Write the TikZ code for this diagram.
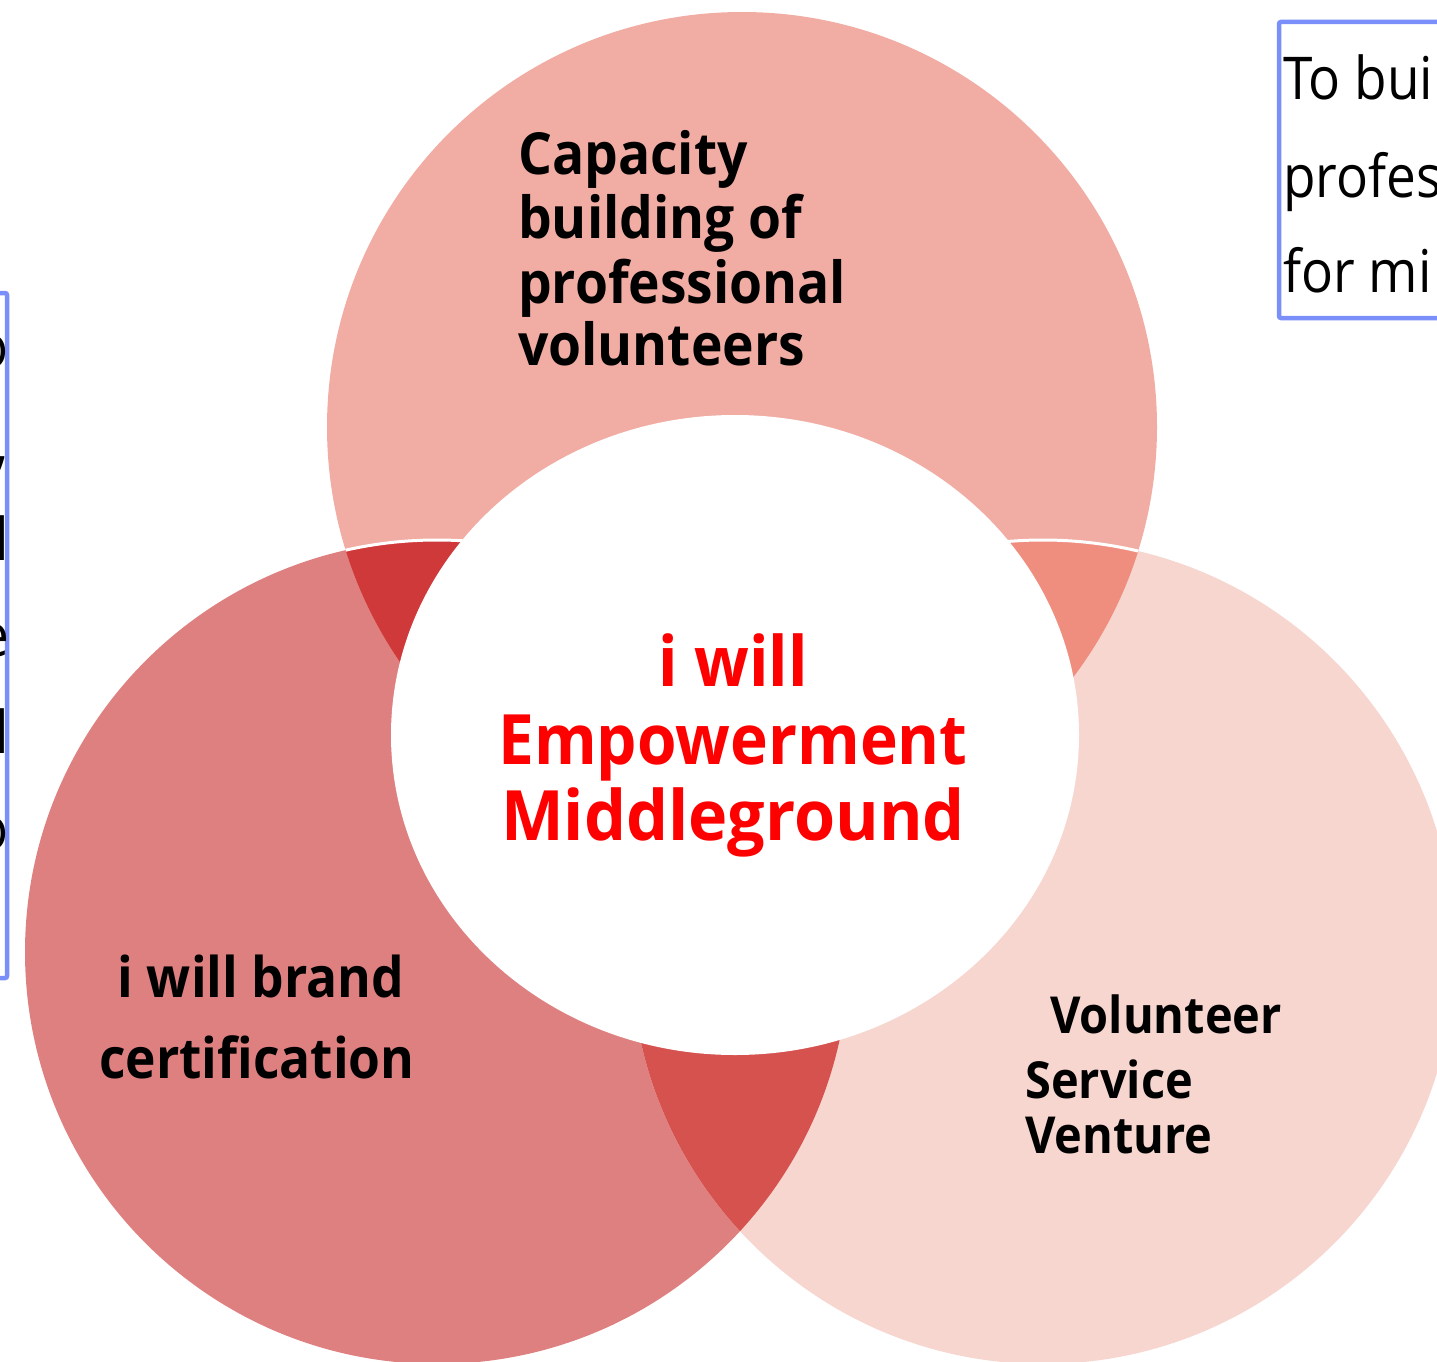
\documentclass[tikz,border=0pt]{standalone}
\usepackage{fontspec}
\setmainfont{Open Sans}
\newfontfamily\narrowsans{Open Sans}[FakeStretch=0.92]
\newfontfamily\boxsans{Open Sans}[FakeStretch=0.9]
\definecolor{ctop}{HTML}{F1ACA3}
\definecolor{cleft}{HTML}{DF8080}
\definecolor{cright}{HTML}{F7D6D0}
\definecolor{ctl}{HTML}{D0393A}
\definecolor{ctr}{HTML}{EF8E7E}
\definecolor{clr}{HTML}{D5524E}
\definecolor{cblue}{HTML}{7B8FFA}
\definecolor{cred}{HTML}{FF0000}
\tikzset{
  boldlbl/.style={font=\narrowsans\fontsize{58}{64}\selectfont\bfseries, inner sep=0pt, text=black},
  brandlbl/.style={font=\narrowsans\fontsize{56}{64}\selectfont\bfseries, inner sep=0pt, text=black},
  venturelbl/.style={font=\narrowsans\fontsize{51}{60}\selectfont\bfseries, inner sep=0pt, text=black},
  centerlbl/.style={font=\narrowsans\fontsize{69.5}{76}\selectfont\bfseries, inner sep=0pt, text=cred},
  boxtxt/.style={font=\boxsans\fontsize{59}{64}\selectfont, inner sep=0pt, text=black},
  framebox/.style={draw=cblue, line width=4.5pt, rounded corners=2pt},
}
\begin{document}
\begin{tikzpicture}[x=1pt,y=-1pt]
\useasboundingbox (0,0) rectangle (1437,1362);
\clip (0,0) rectangle (1437,1362);
% centres
\coordinate (T) at (742,427);
\coordinate (L) at (437,952);
\coordinate (R) at (1043,952);
\coordinate (C) at (735,735);
% circles
\fill[cleft] (L) circle[radius=412];
\fill[cright] (R) circle[radius=412];
\fill[ctop] (T) circle[radius=415];
% overlaps
\begin{scope}
  \clip (T) circle[radius=415];
  \fill[ctl] (L) circle[radius=412];
  \fill[ctr] (R) circle[radius=412];
  \draw[white, line width=3pt] (L) circle[radius=412];
  \draw[white, line width=3pt] (R) circle[radius=412];
\end{scope}
\begin{scope}
  \clip (L) circle[radius=412];
  \fill[clr] (R) circle[radius=412];
\end{scope}
% white centre
\fill[white] (C) ellipse[x radius=344, y radius=320];
% labels
\node[boldlbl, anchor=base west] (cap1) at (518,175) {Capacity};
\node[boldlbl, anchor=base west] (cap2) at (518,238) {building of};
\node[boldlbl, anchor=base west] (cap3) at (518,303) {professional};
\node[boldlbl, anchor=base west] (cap4) at (518,365) {volunteers};
\node[brandlbl, anchor=base] (br1) at (261,997) {i will brand};
\node[brandlbl, anchor=base] (br2) at (257,1078) {certification};
\node[venturelbl, anchor=base west] (v1) at (1050,1033) {Volunteer};
\node[venturelbl, anchor=base west] (v2) at (1025,1098) {Service};
\node[venturelbl, anchor=base west] (v3) at (1025,1153) {Venture};
\node[centerlbl, anchor=base] (c1) at (733,686) {i will};
\node[centerlbl, anchor=base] (c2) at (733,764) {Empowerment};
\node[centerlbl, anchor=base] (c3) at (733,840) {\scalebox{1.04}[1]{Middleground}};
% right text box
\draw[framebox] (1279,22) rectangle (1470,318);
\node[boxtxt, anchor=base west] (r1) at (1283,100) {To bui};
\node[boxtxt, anchor=base west] (r2) at (1283,197) {profes};
\node[boxtxt, anchor=base west] (r3) at (1283,292) {for mi};
% left text box
\draw[framebox] (-30,293) rectangle (7,978);
\node[boxtxt, anchor=base east] (l1) at (9,367) {o};
\node[boxtxt, anchor=base east] (l2) at (9,463) {,};
\node[boxtxt, anchor=base east] (l3) at (9,560) {l};
\node[boxtxt, anchor=base east] (l4) at (9,656) {e};
\node[boxtxt, anchor=base east] (l5) at (9,753) {l};
\node[boxtxt, anchor=base east] (l6) at (9,849) {o};
\end{tikzpicture}
\end{document}
